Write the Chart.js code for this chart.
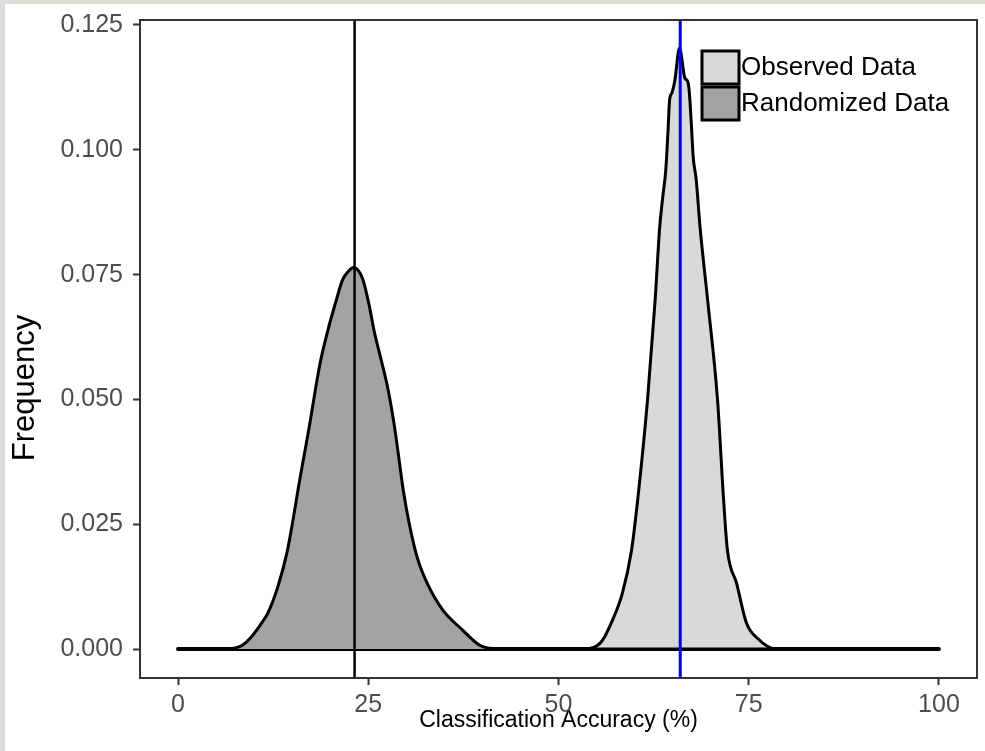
<!DOCTYPE html>
<html>
<head>
<meta charset="UTF-8">
<title>Classification Accuracy</title>
<script src="https://cdn.jsdelivr.net/npm/chart.js"></script>
<style>
  body {
    margin: 0;
    padding: 0;
    width: 985px;
    height: 751px;
    overflow: hidden;
    background-color: #d9ded6;
  }
  #wrap {
    position: absolute;
    left: 5px;
    top: 4px;
    width: 980px;
    height: 747px;
    background: #ffffff;
  }
  canvas { display: block; }
</style>
</head>
<body>
<div id="wrap"><canvas id="densityChart" width="980" height="747"></canvas></div>

<script>
// tick labels
const xTicks = [0, 25, 50, 75, 100];
const yTicks = [0, 0.025, 0.05, 0.075, 0.1, 0.125];
const seriesNames = ["Observed Data", "Randomized Data"];

// density of the observed classification accuracy
const observedX = [0, 50, 54, 55.0, 55.8, 57.1, 58.4, 59.6, 60.4, 61.7, 62.7, 63.3, 63.7, 64.1, 64.4, 64.6, 64.9, 65.3, 65.9,
                   66.6, 67.0, 67.2, 67.5, 67.7, 68.1, 68.6, 69.6, 70.9, 71.7, 72.2, 73.4, 74.7, 76.4, 77.4, 78.5, 100];
const observedY = [0, 0, 0.0001, 0.0006, 0.0018, 0.0058, 0.0112, 0.0198, 0.0298, 0.0499, 0.0699, 0.0845, 0.0905, 0.0960, 0.1040, 0.1100, 0.1114, 0.1140, 0.1204,
                   0.1144, 0.1136, 0.1114, 0.1040, 0.0986, 0.0940, 0.0845, 0.0699, 0.0499, 0.0298, 0.0198, 0.0132, 0.0052, 0.0018, 0.0006, 0, 0];

// density of the randomized (permuted) accuracy
const randomX = [0, 5, 7.5, 8.5, 9.5, 10.8, 11.8, 13.1, 14.3, 15.1, 15.8, 16.5, 17.3, 18.0, 18.7, 19.7, 20.8, 21.6, 22.4, 23.1,
                 23.7, 24.3, 25.1, 25.8, 26.7, 27.6, 28.4, 29.0, 29.6, 30.4, 31.5, 32.8, 34.8, 37.4, 39.6, 41.4, 45, 100];
const randomY = [0, 0, 0.0002, 0.0008, 0.0022, 0.0048, 0.0072, 0.0124, 0.0192, 0.0258, 0.0322, 0.0382, 0.0450, 0.0515, 0.0575, 0.0639, 0.0699, 0.0739, 0.0757, 0.0764,
                 0.0758, 0.0740, 0.0690, 0.0635, 0.0579, 0.0520, 0.0450, 0.0385, 0.0318, 0.0250, 0.0180, 0.0130, 0.0078, 0.0038, 0.0008, 0.0001, 0, 0];

// mean markers
const randomMean = 23.2;
const observedMean = 66.0;

function toPoints(xs, ys) {
  return xs.map((x, i) => ({ x: x, y: ys[i] }));
}

const fontFamily = "'Liberation Sans', Arial, sans-serif";

const extras = {
  id: 'extras',
  afterDatasetsDraw(chart) {
    const ctx = chart.ctx;
    const area = chart.chartArea;
    const xs = chart.scales.x;

    // vertical lines at the means
    [[randomMean, '#000000', 2.5], [observedMean, '#0000ff', 3]].forEach(function (m) {
      const px = xs.getPixelForValue(m[0]);
      ctx.save();
      ctx.strokeStyle = m[1];
      ctx.lineWidth = m[2];
      ctx.beginPath();
      ctx.moveTo(px, area.top);
      ctx.lineTo(px, area.bottom);
      ctx.stroke();
      ctx.restore();
    });

    // panel border
    ctx.save();
    ctx.strokeStyle = '#333333';
    ctx.lineWidth = 2;
    ctx.strokeRect(area.left, area.top, area.right - area.left, area.bottom - area.top);
    ctx.restore();

    // legend inside the panel
    const fills = ['#d9d9d9', '#a3a3a3'];
    const left = area.right - 275;
    let top = area.top + 31;
    ctx.save();
    ctx.font = "26px " + fontFamily;
    ctx.textBaseline = 'middle';
    seriesNames.forEach(function (name, i) {
      ctx.fillStyle = fills[i];
      ctx.fillRect(left, top, 37, 33);
      ctx.strokeStyle = '#000';
      ctx.lineWidth = 3;
      ctx.strokeRect(left, top, 37, 33);
      ctx.fillStyle = '#000';
      ctx.fillText(name, left + 39, top + 17);
      top += 36;
    });
    ctx.restore();

    // y axis title (sits a bit below the panel centre in the original)
    ctx.save();
    ctx.font = "31px " + fontFamily;
    ctx.fillStyle = '#000';
    ctx.textAlign = 'center';
    ctx.textBaseline = 'middle';
    ctx.translate(20, (area.top + area.bottom) / 2 + 39);
    ctx.rotate(-Math.PI / 2);
    ctx.fillText('Frequency', 0, 0);
    ctx.restore();
  }
};

const chart = new Chart(document.getElementById('densityChart').getContext('2d'), {
  type: 'line',
  data: {
    datasets: [
      {
        label: seriesNames[1],
        data: toPoints(randomX, randomY),
        backgroundColor: '#a3a3a3',
        borderColor: '#000000',
        borderWidth: 3,
        fill: 'origin',
        pointRadius: 0,
        cubicInterpolationMode: 'monotone'
      },
      {
        label: seriesNames[0],
        data: toPoints(observedX, observedY),
        backgroundColor: '#d9d9d9',
        borderColor: '#000000',
        borderWidth: 3,
        fill: 'origin',
        pointRadius: 0,
        cubicInterpolationMode: 'monotone'
      },
      {
        label: 'baseline',
        data: [{ x: randomX[0], y: 0 }, { x: randomX[randomX.length - 1], y: 0 }],
        borderColor: '#000000',
        borderWidth: 4,
        borderCapStyle: 'round',
        fill: false,
        pointRadius: 0
      }
    ]
  },
  options: {
    responsive: false,
    animation: false,
    devicePixelRatio: 1,
    layout: { padding: { top: 16, right: 8, left: 0, bottom: 0 } },
    plugins: {
      legend: { display: false },
      tooltip: { enabled: false }
    },
    scales: {
      x: {
        type: 'linear',
        min: -5,
        max: 105,
        afterBuildTicks: function (s) { s.ticks = xTicks.map(v => ({ value: v })); },
        afterFit: function (s) { s.height = 73; s.paddingLeft = 0; s.paddingRight = 0; },
        ticks: {
          callback: v => String(v),
          color: '#4d4d4d',
          font: { family: fontFamily, size: 25 },
          padding: 5,
          maxRotation: 0
        },
        grid: { drawOnChartArea: false, drawTicks: true, tickLength: 7, tickWidth: 2, tickColor: '#333333' },
        border: { display: false },
        title: {
          display: true,
          text: 'Classification Accuracy (%)',
          color: '#000000',
          font: { family: fontFamily, size: 23 },
          padding: { top: 0, bottom: 17 }
        }
      },
      y: {
        type: 'linear',
        min: -0.0058,
        max: 0.126,
        afterBuildTicks: function (s) { s.ticks = yTicks.map(v => ({ value: v })); },
        afterFit: function (s) { s.width = 135; s.paddingTop = 0; s.paddingBottom = 0; },
        ticks: {
          callback: v => Number(v).toFixed(3),
          color: '#4d4d4d',
          font: { family: fontFamily, size: 25 },
          padding: 10
        },
        grid: { drawOnChartArea: false, drawTicks: true, tickLength: 7, tickWidth: 2, tickColor: '#333333' },
        border: { display: false }
      }
    }
  },
  plugins: [extras]
});
</script>
</body>
</html>
